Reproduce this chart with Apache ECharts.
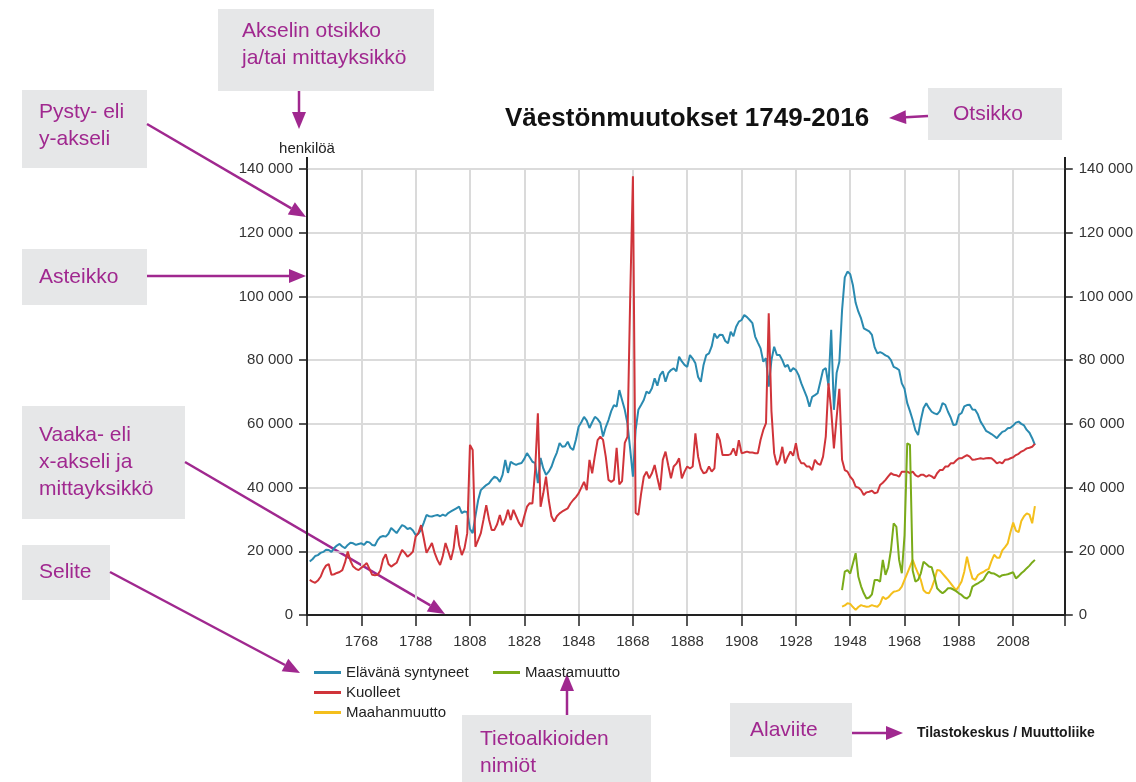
<!DOCTYPE html>
<html>
<head>
<meta charset="utf-8">
<title>Väestönmuutokset 1749-2016</title>
<script src="https://cdn.jsdelivr.net/npm/echarts@6/dist/echarts.min.js"></script>
<style>
  html, body { margin: 0; background: #fff; }
  #chart { width: 1136px; height: 782px; }
</style>
</head>
<body>
<div id="chart"></div>
<script>
// x-akseli: vuodet 1748-2027, nimiöt 20 vuoden välein
var firstYear = 1748;
var lastYear = 2027;
var years = [];
for (var y = firstYear; y <= lastYear; y++) years.push(String(y));

// Elävänä syntyneet 1749-2016
var births = [
  16800,
  17500, 18500, 18800, 19500, 19800, 20500, 20400, 19800, 21000, 21800,
  22300, 21500, 21000, 22000, 22700, 22500, 22000, 22300, 22500, 22000,
  23000, 22800, 22000, 21800, 23500, 24500, 24800, 24600, 25500, 27300,
  26500, 25700, 27000, 28200, 27800, 27000, 27300, 26500, 25100, 25500,
  26700, 29000, 31400, 31000, 30900, 31200, 31400, 31000, 31500, 31100,
  32000, 32500, 33000, 33500, 34000, 32000, 32500, 32300, 27000, 25700,
  31000, 36000, 39200, 40000, 40800, 41300, 42500, 43400, 43000, 41800,
  44000, 48700, 44600, 48100, 47500, 47100, 47500, 47700, 49000, 50800,
  49500, 48100, 47700, 41400, 49300, 46000, 44000, 45000, 46500, 49000,
  51000, 54000, 52800, 53000, 54400, 52500, 51800, 55000, 59100, 60500,
  62200, 61000, 58700, 60500, 62200, 61500, 60300, 56000, 59000, 61200,
  64000, 65900, 65400, 70600, 67500, 64400, 60000, 52000, 43400, 58000,
  64400, 65900, 67500, 70100, 69600, 71200, 74300, 72000, 75300, 76500,
  73200, 75900, 76900, 77400, 76500, 81100, 79600, 78500, 77900, 81600,
  80500, 79000, 74700, 73200, 78500, 81600, 82100, 84300, 88400, 86900,
  88000, 87900, 86000, 85300, 88900, 87500, 90500, 92100, 92600, 94200,
  93500, 92600, 91600, 87400, 85500, 83700, 79500, 80600, 71700, 80000,
  84200, 81600, 81600, 80000, 77900, 78500, 76400, 77500, 76900, 75300,
  72700, 70600, 68500, 65400, 68500, 69000, 69600, 73200, 76900, 77500,
  72000, 89500, 64400, 76000, 79500, 95700, 106000, 107800, 107000, 103500,
  98000, 95200, 93100, 90000, 89500, 89000, 87900, 84000, 82100, 82500,
  82100, 81500, 81100, 80000, 77900, 77500, 76900, 72700, 71000, 66500,
  64000, 61200, 58000, 56500, 61200, 65000, 66500, 65000, 63800, 63300,
  63000, 64000, 66500, 66000, 63800, 62000, 59600, 59800, 62800, 63400,
  65500, 65900, 66000, 64500, 64400, 63000, 60700, 59300, 57800, 57300,
  56800, 56200, 55500, 56600, 57500, 57800, 58600, 58800, 59500, 60400,
  60700, 60000, 59500, 58100, 57200, 55500, 53400
];

// Kuolleet 1749-2016
var deaths = [
  11000,
  10500, 10100, 10800, 12000, 14100, 15500, 16000, 12600, 12800, 13200,
  13500, 14100, 16500, 19900, 17000, 15200, 14500, 14100, 14800, 15500,
  16300, 14500, 12600, 12500, 12600, 14000, 17500, 19100, 16000, 15200,
  15800, 16400, 18500, 20400, 19500, 18300, 19000, 19900, 24600, 25700,
  28200, 24000, 19500, 21000, 22600, 19500, 17300, 15700, 18500, 22600,
  20000, 17300, 21000, 28200, 22000, 18800, 21000, 25700, 53400, 51800,
  21400, 23500, 25700, 30000, 34500, 30000, 26700, 26700, 28500, 31400,
  28200, 30000, 33000, 29800, 33000, 31000, 29000, 27700, 31000, 34000,
  35100, 35000, 45500, 63300, 34000, 38200, 43400, 36100, 31000, 29300,
  31000, 31900, 32500, 33000, 33500, 35000, 36100, 37000, 38200, 40000,
  41800, 39200, 48700, 44500, 50000, 54900, 56000, 55000, 49700, 42400,
  41800, 42400, 52500, 41000, 42000, 54000, 56000, 100000, 137700, 32000,
  31400, 38000, 43400, 45000, 42900, 44500, 47100, 43000, 39200, 48700,
  51300, 47000, 42900, 46600, 47500, 49200, 42900, 45000, 46600, 46000,
  46600, 57000, 49700, 46000, 44500, 44800, 46600, 45000, 46000, 57000,
  54900, 50200, 50200, 50200, 50500, 52300, 50000, 54900, 50800, 51000,
  51300, 51000, 51000, 50800, 50800, 55000, 58100, 60200, 94700, 64000,
  50800, 47100, 48700, 52800, 47600, 49700, 51300, 50000, 53900, 49200,
  47600, 47600, 46600, 46600, 45500, 48700, 47500, 47100, 49700, 56000,
  72700, 64400, 52300, 62000, 71000, 48700, 45500, 45000, 43400, 42400,
  40300, 40000, 39200, 37700, 38500, 38700, 39000, 38200, 38500, 40800,
  41500, 42400, 43500, 44500, 44000, 43900, 43400, 45000, 45000, 45000,
  44500, 45000, 43900, 43400, 44000, 44000, 43400, 43900, 43500, 42900,
  44500, 45500, 45500, 46600, 46600, 47600, 47600, 48500, 49200, 49200,
  49700, 50200, 49700, 48700, 48800, 49000, 49200, 49000, 49200, 49300,
  49200, 48500, 47600, 48000, 47600, 48700, 48800, 49200, 49500, 50200,
  50600, 51300, 51700, 52300, 52500, 52800, 53700
];

// Maahanmuutto 1945-2016
var immigration = [
  2600, 3000, 3700, 3500, 2500,
  1600, 2500, 3100, 2800, 2600, 2700, 3100, 2800, 2600, 3500,
  5700, 5000, 5500, 6500, 7300, 7500, 7800, 8900, 11000, 13100,
  15200, 17300, 15000, 13000, 11000, 7800, 7000, 6800, 8500, 11000,
  14100, 14000, 13000, 12000, 11000, 9900, 8800, 7800, 9000, 10500,
  13600, 18300, 14500, 11500, 11000, 12500, 13100, 13500, 14100, 14500,
  16900, 18900, 18000, 18000, 20300, 21300, 22500, 26000, 29000, 26500,
  26000, 29500, 31000, 31900, 31500, 28800, 34200
];

// Maastamuutto 1945-2016
var emigration = [
  7800, 13600, 14100, 13000, 16200,
  19400, 12000, 9000, 6800, 5200, 5500, 6500, 11000, 11000, 10500,
  17300, 12600, 15000, 20400, 28800, 27700, 17300, 13100, 25000, 53900,
  53400, 14000, 10500, 11000, 13100, 16700, 16000, 15200, 15000, 12000,
  8400, 7500, 6800, 7500, 8400, 8400, 8000, 7500, 6800, 6300,
  5500, 5200, 6000, 8900, 9500, 9900, 10500, 11000, 12500, 13600,
  13100, 13000, 12500, 12000, 12500, 12600, 12800, 13100, 13400, 11500,
  12200, 13100, 13800, 14700, 15500, 16500, 17300
];

var seriesNames = ['Elävänä syntyneet', 'Kuolleet', 'Maahanmuutto', 'Maastamuutto'];
var seriesColors = ['#2a8ab0', '#d0343a', '#f4bf1c', '#7aab19'];

var font = '"Liberation Sans", Arial, sans-serif';
var purple = '#a0288f';
var boxFill = '#e6e7e8';

// sarja vuosiakselille alkaen annetusta vuodesta
function place(startYear, values) {
  return years.map(function (yr) {
    var i = Number(yr) - startYear;
    return i >= 0 && i < values.length ? values[i] : null;
  });
}

function spaced(v) {
  return String(v).replace(/\B(?=(\d{3})+(?!\d))/g, ' ');
}

function isLabelYear(index) {
  return index > 0 && index % 20 === 0;
}

// nuoli selitelaatikosta kuvaan
function arrow(x1, y1, x2, y2) {
  var a = Math.atan2(y2 - y1, x2 - x1);
  var len = 17, w = 7;
  var bx = x2 - len * Math.cos(a), by = y2 - len * Math.sin(a);
  return [
    { type: 'line', shape: { x1: x1, y1: y1, x2: bx, y2: by }, style: { stroke: purple, lineWidth: 2.5 } },
    { type: 'polygon', shape: { points: [[x2, y2], [bx + w * Math.sin(a), by - w * Math.cos(a)], [bx - w * Math.sin(a), by + w * Math.cos(a)]] }, style: { fill: purple } }
  ];
}

function box(x, y, w, h, text, tx, ty) {
  return [
    { type: 'rect', shape: { x: x, y: y, width: w, height: h }, style: { fill: boxFill } },
    { type: 'text', x: tx, y: ty, style: { text: text, fill: purple, fontSize: 21, fontFamily: font, lineHeight: 27, verticalAlign: 'middle' } }
  ];
}

var graphics = [].concat(
  box(218, 9, 216, 82, 'Akselin otsikko\nja/tai mittayksikkö', 242, 45),
  arrow(299, 91, 299, 129),
  box(22, 90, 125, 78, 'Pysty- eli\ny-akseli', 39, 126),
  arrow(147, 124, 306, 217),
  box(22, 249, 125, 56, 'Asteikko', 39, 277),
  arrow(147, 276, 306, 276),
  box(22, 406, 163, 113, 'Vaaka- eli\nx-akseli ja\nmittayksikkö', 39, 462),
  arrow(185, 462, 445, 614),
  box(22, 545, 88, 55, 'Selite', 39, 572),
  arrow(110, 572, 300, 673),
  box(928, 88, 134, 52, 'Otsikko', 953, 114),
  arrow(928, 116, 889, 118),
  box(462, 715, 189, 67, 'Tietoalkioiden\nnimiöt', 480, 753),
  arrow(567, 715, 567, 674),
  box(730, 703, 122, 54, 'Alaviite', 750, 730),
  arrow(852, 733, 903, 733),
  [
    { type: 'text', x: 917, y: 733, style: { text: 'Tilastokeskus / Muuttoliike', fill: '#1a1a1a', fontSize: 14, fontWeight: 'bold', fontFamily: font, verticalAlign: 'middle' } },
    // akselit jatkuvat hieman ylimmän asteikkoviivan yli
    { type: 'line', shape: { x1: 307, y1: 157, x2: 307, y2: 170 }, style: { stroke: '#222', lineWidth: 2 } },
    { type: 'line', shape: { x1: 1065, y1: 157, x2: 1065, y2: 170 }, style: { stroke: '#222', lineWidth: 2 } }
  ]
);

var chart = echarts.init(document.getElementById('chart'));

var yAxisBase = {
  type: 'value',
  min: 0,
  max: 140000,
  interval: 20000,
  axisLine: { show: true, lineStyle: { color: '#222', width: 2 } },
  axisTick: { show: true, length: 8, lineStyle: { color: '#222', width: 1.5 } },
  axisLabel: { color: '#333', fontSize: 15, fontFamily: font, margin: 14, formatter: spaced }
};

var option = {
  animation: false,
  backgroundColor: '#fff',
  title: {
    text: 'Väestönmuutokset 1749-2016',
    left: 500,
    top: 101,
    textStyle: { fontSize: 26, fontWeight: 'bold', color: '#111', fontFamily: font }
  },
  grid: { left: 307, right: 71, top: 169, bottom: 167 },
  legend: [
    {
      data: seriesNames.slice(0, 3),
      orient: 'vertical',
      left: 309,
      top: 660,
      icon: 'rect',
      itemWidth: 27,
      itemHeight: 3,
      itemGap: 5,
      textStyle: { color: '#222', fontSize: 15, fontFamily: font }
    },
    {
      data: seriesNames.slice(3),
      orient: 'vertical',
      left: 488,
      top: 660,
      icon: 'rect',
      itemWidth: 27,
      itemHeight: 3,
      textStyle: { color: '#222', fontSize: 15, fontFamily: font }
    }
  ],
  xAxis: {
    type: 'category',
    data: years,
    boundaryGap: false,
    axisLine: { lineStyle: { color: '#222', width: 2 } },
    axisTick: {
      length: 11,
      interval: function (index) { return index % 20 === 0 || index === years.length - 1; },
      lineStyle: { color: '#222', width: 1.5 }
    },
    axisLabel: { interval: isLabelYear, color: '#333', fontSize: 15, fontFamily: font, margin: 19 },
    splitLine: { show: true, interval: isLabelYear, lineStyle: { color: '#dadada', width: 2 } }
  },
  yAxis: [
    Object.assign({}, yAxisBase, {
      position: 'left',
      name: 'henkilöä',
      nameLocation: 'end',
      nameGap: 13,
      nameTextStyle: { color: '#222', fontSize: 15, fontFamily: font },
      splitLine: { lineStyle: { color: '#cfcfcf', width: 1.5 } }
    }),
    Object.assign({}, yAxisBase, {
      position: 'right',
      splitLine: { show: false }
    })
  ],
  series: [
    { name: seriesNames[0], data: place(1749, births) },
    { name: seriesNames[1], data: place(1749, deaths) },
    { name: seriesNames[2], data: place(1945, immigration) },
    { name: seriesNames[3], data: place(1945, emigration) }
  ].map(function (s, i) {
    return {
      name: s.name,
      type: 'line',
      data: s.data,
      symbol: 'none',
      color: seriesColors[i],
      lineStyle: { color: seriesColors[i], width: 2 }
    };
  }),
  graphic: graphics
};

chart.setOption(option);
</script>
</body>
</html>
